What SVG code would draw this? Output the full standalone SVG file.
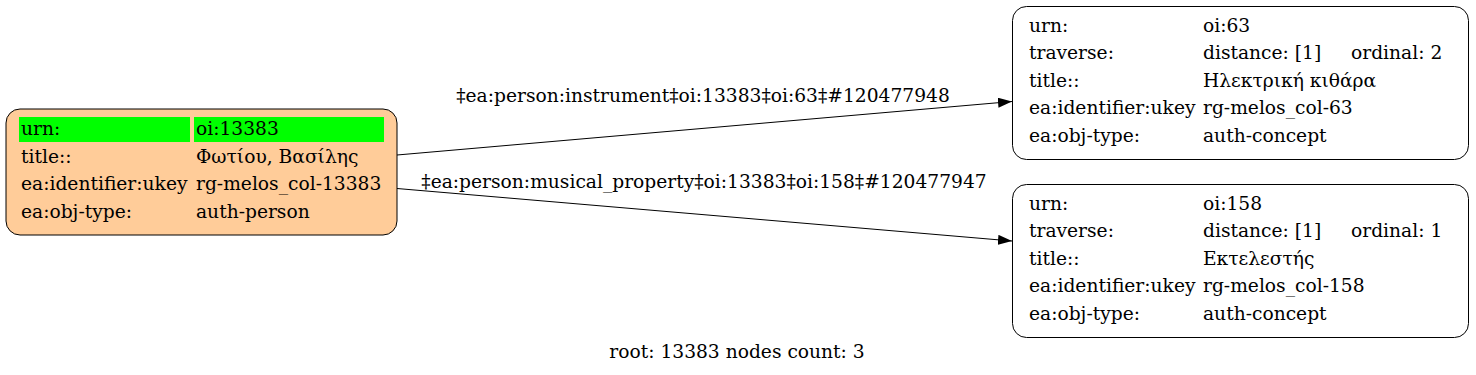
<svg xmlns="http://www.w3.org/2000/svg" width="1476" height="375" viewBox="0 0 1476 375">
<style>
text{font-family:"DejaVu Serif","Liberation Serif",serif;font-size:18.67px;fill:#000}
.box{stroke:#000;stroke-width:1}
.edge{stroke:#000;stroke-width:1;fill:none}
.mid{text-anchor:middle}
</style>
<defs>
<marker id="ah" markerUnits="userSpaceOnUse" markerWidth="14" markerHeight="10" refX="14" refY="5" orient="auto" viewBox="0 0 14 10">
<path d="M0,0 L14,5 L0,10 Z" fill="#000"/>
</marker>
</defs>
<rect width="1476" height="375" fill="#fff"/>
<g id="edges">
<path class="edge" d="M397,155 L1012,101.5" marker-end="url(#ah)"/>
<text class="mid" x="703" y="102">‡ea:person:instrument‡oi:13383‡oi:63‡#120477948</text>
<path class="edge" d="M397,188.5 L1012,241" marker-end="url(#ah)"/>
<text class="mid" x="704" y="187.5">‡ea:person:musical_property‡oi:13383‡oi:158‡#120477947</text>
</g>
<g id="node-13383">
<rect class="box" x="6" y="109" width="391" height="126" rx="14" fill="#ffcc99"/>
<rect x="19" y="117" width="171" height="25" fill="#00ff00"/>
<rect x="194" y="117" width="190" height="25" fill="#00ff00"/>
<text x="21" y="135">urn:</text><text x="196" y="135">oi:13383</text>
<text x="21" y="162.5">title::</text><text x="196" y="162.5">Φωτίου, Βασίλης</text>
<text x="21" y="190">ea:identifier:ukey</text><text x="196" y="190">rg-melos_col-13383</text>
<text x="21" y="217.5">ea:obj-type:</text><text x="196" y="217.5">auth-person</text>
</g>
<g id="node-63">
<rect class="box" x="1012.5" y="6.5" width="456" height="153" rx="14" fill="#fff"/>
<text x="1029" y="31.5">urn:</text><text x="1203" y="31.5">oi:63</text>
<text x="1029" y="59">traverse:</text><text x="1203" y="59">distance: [1]</text><text x="1351" y="59">ordinal: 2</text>
<text x="1029" y="86.5">title::</text><text x="1203" y="86.5">Ηλεκτρική κιθάρα</text>
<text x="1029" y="114">ea:identifier:ukey</text><text x="1203" y="114">rg-melos_col-63</text>
<text x="1029" y="141.5">ea:obj-type:</text><text x="1203" y="141.5">auth-concept</text>
</g>
<g id="node-158">
<rect class="box" x="1012.5" y="184.5" width="456" height="153" rx="14" fill="#fff"/>
<text x="1029" y="209.5">urn:</text><text x="1203" y="209.5">oi:158</text>
<text x="1029" y="237">traverse:</text><text x="1203" y="237">distance: [1]</text><text x="1351" y="237">ordinal: 1</text>
<text x="1029" y="264.5">title::</text><text x="1203" y="264.5">Εκτελεστής</text>
<text x="1029" y="292">ea:identifier:ukey</text><text x="1203" y="292">rg-melos_col-158</text>
<text x="1029" y="319.5">ea:obj-type:</text><text x="1203" y="319.5">auth-concept</text>
</g>
<text class="mid" x="737" y="358">root: 13383 nodes count: 3</text>
</svg>
